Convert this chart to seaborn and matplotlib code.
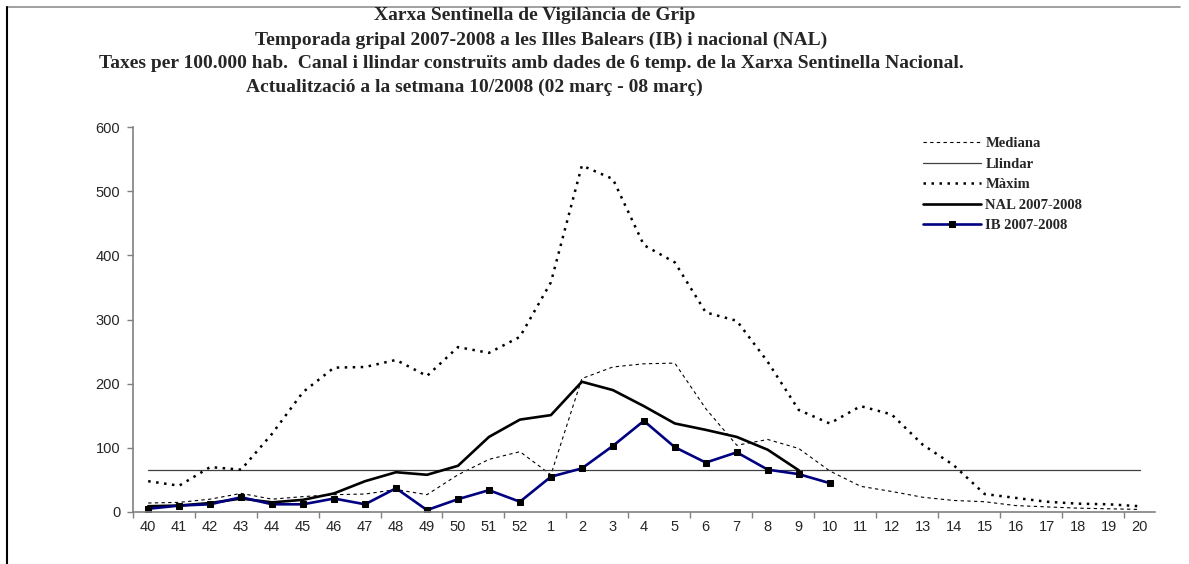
import pandas as pd
import matplotlib
matplotlib.use("Agg")
import matplotlib.pyplot as plt
import seaborn as sns
from matplotlib.ticker import FixedLocator

weeks = [str(w) for w in range(40, 53)] + [str(w) for w in range(1, 21)]

mediana = [14, 15, 20, 29, 20, 24, 27, 28, 35, 27, 58, 82, 94, 58, 208, 226, 231,
           232, 161, 104, 113, 99, 64, 40, 32, 23, 18, 16, 10, 8, 6, 5, 4]
maxim = [48, 41, 70, 66, 122, 187, 225, 226, 237, 212, 257, 248, 273, 358, 540, 519,
         416, 389, 311, 298, 234, 159, 138, 165, 152, 105, 73, 28, 22, 16, 13, 12, 9]
llindar = [66] * len(weeks)
nal = [9, 10, 14, 21, 15, 19, 29, 48, 62, 58, 72, 117, 144, 151, 203, 190, 165,
       138, 128, 117, 97, 65]
ib = [5, 10, 12, 23, 12, 12, 21, 12, 37, 3, 20, 34, 16, 55, 68, 103, 142, 101, 77,
      93, 66, 59, 45]

titles = ["Xarxa Sentinella de Vigilància de Grip",
          "Temporada gripal 2007-2008 a les Illes Balears (IB) i nacional (NAL)",
          "Taxes per 100.000 hab.  Canal i llindar construïts amb dades de 6 temp. de la Xarxa Sentinella Nacional.",
          "Actualització a la setmana 10/2008 (02 març - 08 març)"]

sns.set_theme(style="white")
plt.rcParams["font.family"] = ["Liberation Sans", "DejaVu Sans"]

fig = plt.figure(figsize=(11.89, 5.64), dpi=100)
ax = fig.add_axes([0.1116, 0.0922, 0.8598, 0.6826])

df_med = pd.DataFrame({"week": weeks, "val": mediana})
df_max = pd.DataFrame({"week": weeks, "val": maxim})
df_ll = pd.DataFrame({"week": weeks, "val": llindar})
df_nal = pd.DataFrame({"week": weeks[:len(nal)], "val": nal})
df_ib = pd.DataFrame({"week": weeks[:len(ib)], "val": ib})

sns.lineplot(data=df_med, x="week", y="val", sort=False, ax=ax, color="black",
             lw=0.8, label="Mediana")
ax.lines[-1].set_dashes((3, 3))
sns.lineplot(data=df_ll, x="week", y="val", sort=False, ax=ax, color="#404040",
             lw=0.9, label="Llindar")
sns.lineplot(data=df_max, x="week", y="val", sort=False, ax=ax, color="black",
             lw=1.8, label="Màxim")
ax.lines[-1].set_dashes((1, 2.2))
sns.lineplot(data=df_nal, x="week", y="val", sort=False, ax=ax, color="black",
             lw=1.9, label="NAL 2007-2008")
sns.lineplot(data=df_ib, x="week", y="val", sort=False, ax=ax, color="#000080",
             lw=1.9, marker="s", markersize=4.5, markerfacecolor="black",
             markeredgecolor="black", label="IB 2007-2008")

ax.set_xlim(-0.5, len(weeks) - 0.5)
ax.set_ylim(0, 600)
ax.set_yticks(range(0, 601, 100))
ax.set_xlabel("")
ax.set_ylabel("")
ax.xaxis.set_minor_locator(FixedLocator([i - 0.5 for i in range(0, len(weeks) + 1, 2)]))
ax.tick_params(axis="x", which="major", length=0, labelsize=10.5, pad=6)
ax.tick_params(axis="x", which="minor", length=4, width=1, color="#808080",
               direction="out", bottom=True)
ax.tick_params(axis="y", length=4, width=1, color="#808080", direction="out",
               left=True, labelsize=10.5, pad=5)
for s in ["top", "right"]:
    ax.spines[s].set_visible(False)
for s in ["left", "bottom"]:
    ax.spines[s].set_color("#808080")
    ax.spines[s].set_linewidth(1.2)

leg = ax.legend(loc="upper left", bbox_to_anchor=(0.760, 1.008), frameon=False,
                handlelength=4.0, handletextpad=0.3, labelspacing=0.5,
                prop={"family": "Liberation Serif", "weight": "bold", "size": 10.5})

tfont = {"family": "Liberation Serif", "weight": "bold", "size": 14}
ys = [16, 40, 63, 87]
xs = [535, 541, 531, 474]
for t, x, y in zip(titles, xs, ys):
    fig.text(x / 1189, 1 - y / 564, t, ha="center", va="center", **tfont)

# outer frame
fig.add_artist(plt.Line2D([7 / 1189, 1180 / 1189], [1 - 7 / 564, 1 - 7 / 564],
                          color="#909090", lw=1.2, transform=fig.transFigure))
fig.add_artist(plt.Line2D([7 / 1189, 7 / 1189], [1 - 7 / 564, 0],
                          color="black", lw=1.5, transform=fig.transFigure))

fig.savefig("out.png", dpi=100)
